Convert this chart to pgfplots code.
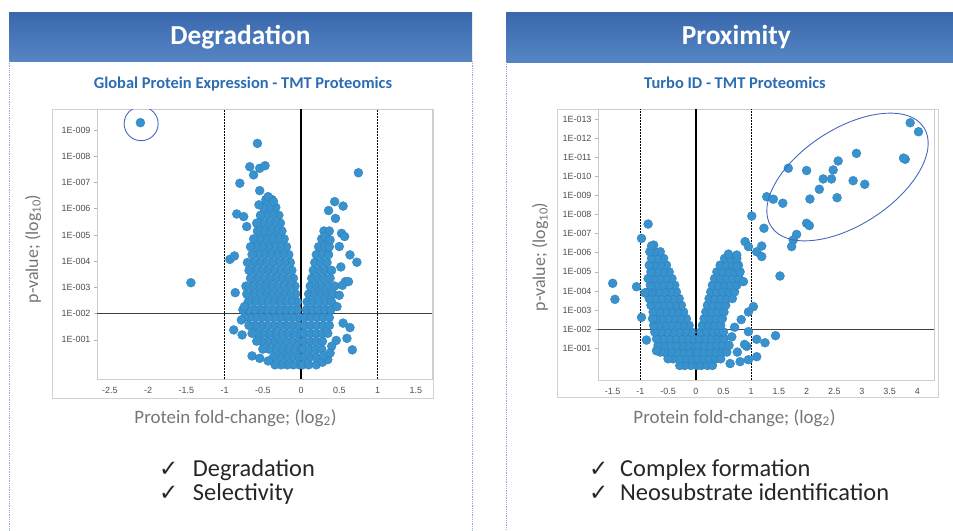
\documentclass[border=0pt]{standalone}
\usepackage{pgfplots}
\pgfplotsset{compat=1.18}
\usepackage{fontspec}
\setmainfont{Carlito}
\newfontfamily\tickfont{Liberation Sans}
\newfontfamily\symfont{DejaVu Sans}

\definecolor{dotblue}{RGB}{56,146,205}
\definecolor{dotedge}{RGB}{44,126,186}
\definecolor{hdrtop}{RGB}{56,104,172}
\definecolor{hdrbot}{RGB}{86,133,197}
\definecolor{subblue}{RGB}{44,108,178}
\definecolor{panelline}{RGB}{150,170,215}
\definecolor{labelgray}{RGB}{118,118,118}
\definecolor{tickgray}{RGB}{85,75,75}
\definecolor{ringblue}{RGB}{70,105,190}
\definecolor{bodytext}{RGB}{38,38,38}

\pgfplotsset{volcano/.style={
  scale only axis, anchor=south west,
  axis line style={draw=gray!40, line width=0.6bp},
  tick label style={font=\tickfont\fontsize{9}{10}\selectfont, text=tickgray},
  /pgf/number format/assume math mode=true,
  ytick pos=left, xtick pos=bottom,
  tick align=outside, major tick length=3bp,
  tick style={draw=gray!60, line width=0.5bp},
  xtick style={draw=none},
  xticklabel style={yshift=-2bp},
}}
\tikzset{dots/.style={only marks, mark=*, mark size=4.5bp,
  mark options={fill=dotblue, draw=dotedge, line width=0.3bp}}}

\begin{document}
\begin{tikzpicture}
\useasboundingbox (0,0) rectangle (953bp,-531bp);

% panel headers and dotted frames
\shade[top color=hdrtop, bottom color=hdrbot] (9bp,-12bp) rectangle (472bp,-61bp);
\shade[top color=hdrtop, bottom color=hdrbot] (506bp,-12bp) rectangle (965bp,-62bp);
\draw[panelline, densely dotted, line width=0.8bp] (9bp,-61bp) -- (9bp,-531bp);
\draw[panelline, densely dotted, line width=0.8bp] (472bp,-61bp) -- (472bp,-531bp);
\draw[panelline, densely dotted, line width=0.8bp] (506bp,-62bp) -- (506bp,-531bp);
\node[anchor=base, white, font=\bfseries\fontsize{27.5}{32}\selectfont] at (240.5bp,-44.3bp) {Degradation};
\node[anchor=base, white, font=\bfseries\fontsize{27.5}{32}\selectfont] at (736.3bp,-44.3bp) {Proximity};
\node[anchor=base, subblue, font=\bfseries\fontsize{16.5}{18}\selectfont] at (243bp,-88.3bp) {Global Protein Expression - TMT Proteomics};
\node[anchor=base, subblue, font=\bfseries\fontsize{16.5}{18}\selectfont] at (735bp,-88.3bp) {Turbo ID - TMT Proteomics};

% outer chart frames
\draw[gray!35, line width=0.6bp] (52bp,-109bp) rectangle (433bp,-398bp);
\draw[gray!35, line width=0.6bp] (557bp,-109bp) rectangle (938bp,-397bp);

% ---- left volcano
\begin{axis}[volcano, at={(97bp,-379bp)}, width=335bp, height=270bp,
  xmin=-2.667, xmax=1.712, ymin=-0.49, ymax=9.8,
  xtick={-2.5,-2,-1.5,-1,-0.5,0,0.5,1,1.5},
  xticklabels={-2.5,-2,-1.5,-1,-0.5,0,0.5,1,1.5},
  ytick={1,2,3,4,5,6,7,8,9},
  yticklabels={1E-001,1E-002,1E-003,1E-004,1E-005,1E-006,1E-007,1E-008,1E-009}]
% left arm
\addplot[dots] coordinates {
(-0.02,0.05)(-0.10,0.05)(-0.18,0.05)(-0.26,0.05)(-0.34,0.05)
(-0.04,0.35)(-0.12,0.35)(-0.20,0.35)(-0.28,0.35)(-0.36,0.35)(-0.43,0.20)
(-0.02,0.65)(-0.10,0.65)(-0.18,0.65)(-0.26,0.65)(-0.34,0.65)(-0.42,0.65)(-0.50,0.65)
(-0.04,0.95)(-0.12,0.95)(-0.20,0.95)(-0.28,0.95)(-0.36,0.95)(-0.44,0.95)(-0.52,0.95)(-0.58,0.95)
(-0.02,1.25)(-0.10,1.25)(-0.18,1.25)(-0.26,1.25)(-0.34,1.25)(-0.42,1.25)(-0.50,1.25)(-0.58,1.25)(-0.64,1.25)
(-0.04,1.55)(-0.12,1.55)(-0.20,1.55)(-0.28,1.55)(-0.36,1.55)(-0.44,1.55)(-0.52,1.55)(-0.60,1.55)(-0.68,1.55)
(-0.03,1.85)(-0.11,1.85)(-0.19,1.85)(-0.27,1.85)(-0.35,1.85)(-0.43,1.85)(-0.51,1.85)(-0.59,1.85)(-0.67,1.85)(-0.74,1.85)
(-0.05,2.15)(-0.13,2.15)(-0.21,2.15)(-0.29,2.15)(-0.37,2.15)(-0.45,2.15)(-0.53,2.15)(-0.61,2.15)(-0.69,2.15)(-0.76,2.15)
(-0.05,2.45)(-0.13,2.45)(-0.21,2.45)(-0.29,2.45)(-0.37,2.45)(-0.45,2.45)(-0.53,2.45)(-0.61,2.45)(-0.69,2.45)
(-0.07,2.75)(-0.15,2.75)(-0.23,2.75)(-0.31,2.75)(-0.39,2.75)(-0.47,2.75)(-0.55,2.75)(-0.63,2.75)(-0.71,2.75)
(-0.08,3.05)(-0.16,3.05)(-0.24,3.05)(-0.32,3.05)(-0.40,3.05)(-0.48,3.05)(-0.56,3.05)(-0.64,3.05)(-0.72,3.05)
(-0.10,3.35)(-0.18,3.35)(-0.26,3.35)(-0.34,3.35)(-0.42,3.35)(-0.50,3.35)(-0.58,3.35)(-0.66,3.35)
(-0.12,3.65)(-0.20,3.65)(-0.28,3.65)(-0.36,3.65)(-0.44,3.65)(-0.52,3.65)(-0.60,3.65)(-0.68,3.65)
(-0.14,3.95)(-0.22,3.95)(-0.30,3.95)(-0.38,3.95)(-0.46,3.95)(-0.54,3.95)(-0.62,3.95)(-0.70,3.95)
(-0.16,4.25)(-0.24,4.25)(-0.32,4.25)(-0.40,4.25)(-0.48,4.25)(-0.56,4.25)(-0.64,4.25)
(-0.19,4.55)(-0.27,4.55)(-0.35,4.55)(-0.43,4.55)(-0.51,4.55)(-0.59,4.55)(-0.66,4.55)
(-0.22,4.85)(-0.30,4.85)(-0.38,4.85)(-0.46,4.85)(-0.54,4.85)(-0.62,4.85)
(-0.25,5.15)(-0.33,5.15)(-0.41,5.15)(-0.49,5.15)(-0.57,5.15)
(-0.27,5.45)(-0.35,5.45)(-0.43,5.45)(-0.51,5.45)(-0.58,5.45)
(-0.29,5.75)(-0.37,5.75)(-0.45,5.75)(-0.53,5.75)
(-0.33,6.05)(-0.41,6.05)(-0.49,6.05)
(-0.38,6.35)(-0.46,6.35)
};
% right arm
\addplot[dots] coordinates {
(0.02,0.05)(0.10,0.05)(0.20,0.05)
(0.04,0.35)(0.12,0.35)(0.20,0.35)(0.28,0.15)(0.35,0.25)
(0.03,0.65)(0.11,0.65)(0.19,0.65)(0.27,0.65)(0.30,0.40)
(0.04,0.95)(0.12,0.95)(0.20,0.95)(0.28,0.95)
(0.04,1.25)(0.12,1.25)(0.20,1.25)(0.28,1.25)(0.35,1.25)
(0.05,1.55)(0.13,1.55)(0.21,1.55)(0.29,1.55)(0.37,1.55)
(0.05,1.85)(0.13,1.85)(0.21,1.85)(0.29,1.85)(0.37,1.85)
(0.07,2.15)(0.15,2.15)(0.23,2.15)(0.31,2.15)(0.39,2.15)
(0.08,2.45)(0.16,2.45)(0.24,2.45)(0.32,2.45)(0.40,2.45)
(0.10,2.75)(0.18,2.75)(0.26,2.75)(0.34,2.75)(0.42,2.75)
(0.12,3.05)(0.20,3.05)(0.28,3.05)(0.36,3.05)(0.44,3.05)
(0.14,3.35)(0.22,3.35)(0.30,3.35)(0.38,3.35)
(0.16,3.65)(0.24,3.65)(0.32,3.65)(0.40,3.65)
(0.18,3.95)(0.26,3.95)(0.34,3.95)
(0.20,4.25)(0.28,4.25)(0.36,4.25)
(0.23,4.55)(0.31,4.55)(0.37,4.55)
(0.27,4.85)(0.35,4.85)
(0.30,5.15)(0.37,5.15)
};
% scattered points
\addplot[dots] coordinates {
(-2.10,9.28)(-1.44,3.18)(-0.57,8.49)(-0.67,7.60)(-0.54,7.54)(-0.47,7.64)(-0.62,7.29)
(-0.80,6.97)(-0.54,6.69)(-0.43,6.46)(-0.36,6.27)(-0.55,6.15)(-0.84,5.80)(-0.75,5.70)
(-0.71,5.32)(-0.93,4.07)(-0.87,4.20)(-0.86,2.80)(-0.88,1.38)(-0.77,1.19)(-0.64,0.39)
(-0.54,0.30)(-0.74,2.27)(-0.78,1.76)
(0.75,7.37)(0.44,6.27)(0.55,6.10)(0.36,5.93)(0.45,5.63)(0.31,4.94)(0.38,4.81)
(0.53,5.06)(0.57,4.94)(0.50,4.56)(0.64,4.24)(0.73,3.96)(0.52,3.78)(0.58,3.22)
(0.62,3.22)(0.54,3.08)(0.50,2.70)(0.47,2.27)(0.55,1.64)(0.64,1.47)(0.60,1.06)
(0.46,0.98)(0.40,0.76)(0.38,0.50)(0.67,0.62)
};
\addplot[black, line width=2.2bp] coordinates {(0,-0.49) (0,9.8)};
\addplot[black, line width=0.9bp, dash pattern=on 2bp off 1bp] coordinates {(-1,-0.49) (-1,9.8)};
\addplot[black, line width=0.9bp, dash pattern=on 2bp off 1bp] coordinates {(1,-0.49) (1,9.8)};
\addplot[black!75, line width=1bp] coordinates {(-2.667,2) (1.712,2)};
\draw[ringblue, line width=0.9bp] (axis cs:-2.09,9.24) circle [radius=17bp];
\end{axis}

% ---- right volcano
\begin{axis}[volcano, at={(598bp,-380bp)}, width=336bp, height=271bp,
  xmin=-1.765, xmax=4.30, ymin=-0.66, ymax=13.52,
  xtick={-1.5,-1,-0.5,0,0.5,1,1.5,2,2.5,3,3.5,4},
  xticklabels={-1.5,-1,-0.5,0,0.5,1,1.5,2,2.5,3,3.5,4},
  ytick={1,2,3,4,5,6,7,8,9,10,11,12,13},
  yticklabels={1E-001,1E-002,1E-003,1E-004,1E-005,1E-006,1E-007,1E-008,1E-009,1E-010,1E-011,1E-012,1E-013}]
% left arm
\addplot[dots] coordinates {
(0.02,0.10)(-0.09,0.10)(-0.20,0.10)(-0.29,0.10)
(0.02,0.45)(-0.08,0.45)(-0.19,0.45)(-0.30,0.45)(-0.41,0.45)(-0.50,0.45)
(-0.02,0.80)(-0.13,0.80)(-0.24,0.80)(-0.35,0.80)(-0.46,0.80)(-0.57,0.80)(-0.64,0.80)
(-0.03,1.15)(-0.14,1.15)(-0.25,1.15)(-0.36,1.15)(-0.47,1.15)(-0.58,1.15)(-0.68,1.15)
(-0.05,1.50)(-0.16,1.50)(-0.27,1.50)(-0.38,1.50)(-0.49,1.50)(-0.60,1.50)(-0.71,1.50)
(-0.08,1.85)(-0.19,1.85)(-0.30,1.85)(-0.41,1.85)(-0.52,1.85)(-0.63,1.85)(-0.74,1.85)
(-0.12,2.20)(-0.23,2.20)(-0.34,2.20)(-0.45,2.20)(-0.56,2.20)(-0.67,2.20)(-0.76,2.20)
(-0.17,2.55)(-0.28,2.55)(-0.39,2.55)(-0.50,2.55)(-0.61,2.55)(-0.72,2.55)(-0.78,2.55)
(-0.22,2.90)(-0.33,2.90)(-0.44,2.90)(-0.55,2.90)(-0.66,2.90)(-0.77,2.90)
(-0.26,3.25)(-0.37,3.25)(-0.48,3.25)(-0.59,3.25)(-0.70,3.25)(-0.81,3.25)
(-0.30,3.60)(-0.41,3.60)(-0.52,3.60)(-0.63,3.60)(-0.74,3.60)(-0.84,3.60)
(-0.35,3.95)(-0.46,3.95)(-0.57,3.95)(-0.68,3.95)(-0.79,3.95)(-0.86,3.95)
(-0.38,4.30)(-0.49,4.30)(-0.60,4.30)(-0.71,4.30)(-0.82,4.30)
(-0.43,4.65)(-0.54,4.65)(-0.65,4.65)(-0.76,4.65)(-0.86,4.65)
(-0.48,5.00)(-0.59,5.00)(-0.70,5.00)(-0.81,5.00)
(-0.53,5.35)(-0.64,5.35)(-0.75,5.35)(-0.84,5.35)
(-0.58,5.70)(-0.69,5.70)(-0.80,5.70)
(-0.64,6.05)(-0.75,6.05)(-0.83,6.05)
(-0.76,6.40)
};
% right arm
\addplot[dots] coordinates {
(0.10,0.10)(0.21,0.10)(0.30,0.10)
(0.03,0.45)(0.14,0.45)(0.25,0.45)(0.36,0.45)(0.45,0.45)
(0.04,0.80)(0.15,0.80)(0.26,0.80)(0.37,0.80)(0.48,0.80)(0.56,0.80)
(0.05,1.15)(0.16,1.15)(0.27,1.15)(0.38,1.15)(0.49,1.15)(0.60,1.15)
(0.07,1.50)(0.18,1.50)(0.29,1.50)(0.40,1.50)(0.51,1.50)
(0.09,1.85)(0.20,1.85)(0.31,1.85)(0.42,1.85)(0.50,1.85)
(0.12,2.20)(0.23,2.20)(0.34,2.20)(0.45,2.20)
(0.15,2.55)(0.26,2.55)(0.37,2.55)(0.48,2.55)
(0.18,2.90)(0.29,2.90)(0.40,2.90)(0.51,2.90)
(0.21,3.25)(0.32,3.25)(0.43,3.25)(0.54,3.25)
(0.24,3.60)(0.35,3.60)(0.46,3.60)(0.57,3.60)(0.66,3.60)
(0.27,3.95)(0.38,3.95)(0.49,3.95)(0.60,3.95)(0.70,3.95)
(0.30,4.30)(0.41,4.30)(0.52,4.30)(0.63,4.30)(0.74,4.30)
(0.34,4.65)(0.45,4.65)(0.56,4.65)(0.67,4.65)(0.78,4.65)
(0.38,5.00)(0.49,5.00)(0.60,5.00)(0.71,5.00)(0.80,5.00)
(0.44,5.35)(0.55,5.35)(0.66,5.35)(0.77,5.35)
(0.52,5.70)(0.63,5.70)(0.74,5.70)
};
% scattered points
\addplot[dots] coordinates {
(-1.50,4.40)(-1.46,3.56)(-1.07,4.22)(-0.98,6.75)(-0.86,7.50)(-0.98,2.62)(-0.92,3.90)
(-0.89,1.43)(-0.71,0.87)(-0.80,6.35)
(0.59,5.93)(0.74,5.88)(0.74,5.27)(0.86,4.49)(1.04,3.18)(0.95,2.90)(0.95,1.87)
(1.10,1.47)(1.25,1.29)(1.10,0.56)(0.92,1.10)(0.89,6.58)(0.95,6.32)(1.10,6.05)
(1.19,6.35)(1.19,5.80)(1.01,7.92)(1.23,7.28)(1.52,4.78)(1.44,1.66)(0.82,2.50)
(0.88,1.20)(0.75,0.80)(0.65,1.60)(0.80,0.30)(0.95,0.40)(0.70,2.10)(0.62,0.20)
};
% circled hits
\addplot[dots] coordinates {
(3.87,12.80)(4.02,12.33)(3.78,10.89)(3.75,10.95)(2.90,11.20)(2.57,10.80)(2.48,10.33)
(2.00,10.30)(1.67,10.42)(2.30,9.86)(2.45,9.86)(2.84,9.77)(3.05,9.58)(2.23,9.32)
(2.55,8.88)(2.06,8.81)(1.57,8.59)(2.00,7.54)(2.05,7.42)(1.82,6.96)(1.76,6.67)
(1.73,6.32)(1.28,8.93)(1.40,8.80)
};
\addplot[black, line width=2.2bp] coordinates {(0,-0.66) (0,13.52)};
\addplot[black, line width=0.9bp, dash pattern=on 2bp off 1bp] coordinates {(-1,-0.66) (-1,13.52)};
\addplot[black, line width=0.9bp, dash pattern=on 2bp off 1bp] coordinates {(1,-0.66) (1,13.52)};
\addplot[black!75, line width=1bp] coordinates {(-1.765,2) (4.30,2)};
\end{axis}
\draw[ringblue, line width=0.9bp, rotate around={33:(847.5bp,-177bp)}]
  (847.5bp,-177bp) ellipse [x radius=91bp, y radius=48bp];

% axis titles
\node[anchor=base, labelgray, font=\fontsize{19}{21}\selectfont] at (235.5bp,-423bp) {Protein fold-change; (log\textsubscript{2})};
\node[anchor=base, labelgray, font=\fontsize{19}{21}\selectfont] at (734.5bp,-423bp) {Protein fold-change; (log\textsubscript{2})};
\node[rotate=90, labelgray, font=\fontsize{18}{20}\selectfont] at (33bp,-249bp) {p-value; (log\textsubscript{10})};
\node[rotate=90, labelgray, font=\fontsize{18}{20}\selectfont] at (540bp,-257bp) {p-value; (log\textsubscript{10})};

% take-away lines
\node[anchor=base west, bodytext, font=\symfont\fontsize{23}{25}\selectfont, inner sep=0pt] at (159bp,-476.7bp) {✓};
\node[anchor=base west, bodytext, font=\symfont\fontsize{23}{25}\selectfont, inner sep=0pt] at (159bp,-500bp) {✓};
\node[anchor=base west, bodytext, font=\fontsize{24.5}{27}\selectfont, inner sep=0pt] at (192.7bp,-476.7bp) {Degradation};
\node[anchor=base west, bodytext, font=\fontsize{24.5}{27}\selectfont, inner sep=0pt] at (192.7bp,-500bp) {Selectivity};
\node[anchor=base west, bodytext, font=\symfont\fontsize{23}{25}\selectfont, inner sep=0pt] at (589bp,-476bp) {✓};
\node[anchor=base west, bodytext, font=\symfont\fontsize{23}{25}\selectfont, inner sep=0pt] at (589bp,-500bp) {✓};
\node[anchor=base west, bodytext, font=\fontsize{24.5}{27}\selectfont, inner sep=0pt] at (620bp,-476bp) {Complex formation};
\node[anchor=base west, bodytext, font=\fontsize{24.5}{27}\selectfont, inner sep=0pt] at (620bp,-500bp) {Neosubstrate identification};
\end{tikzpicture}
\end{document}
